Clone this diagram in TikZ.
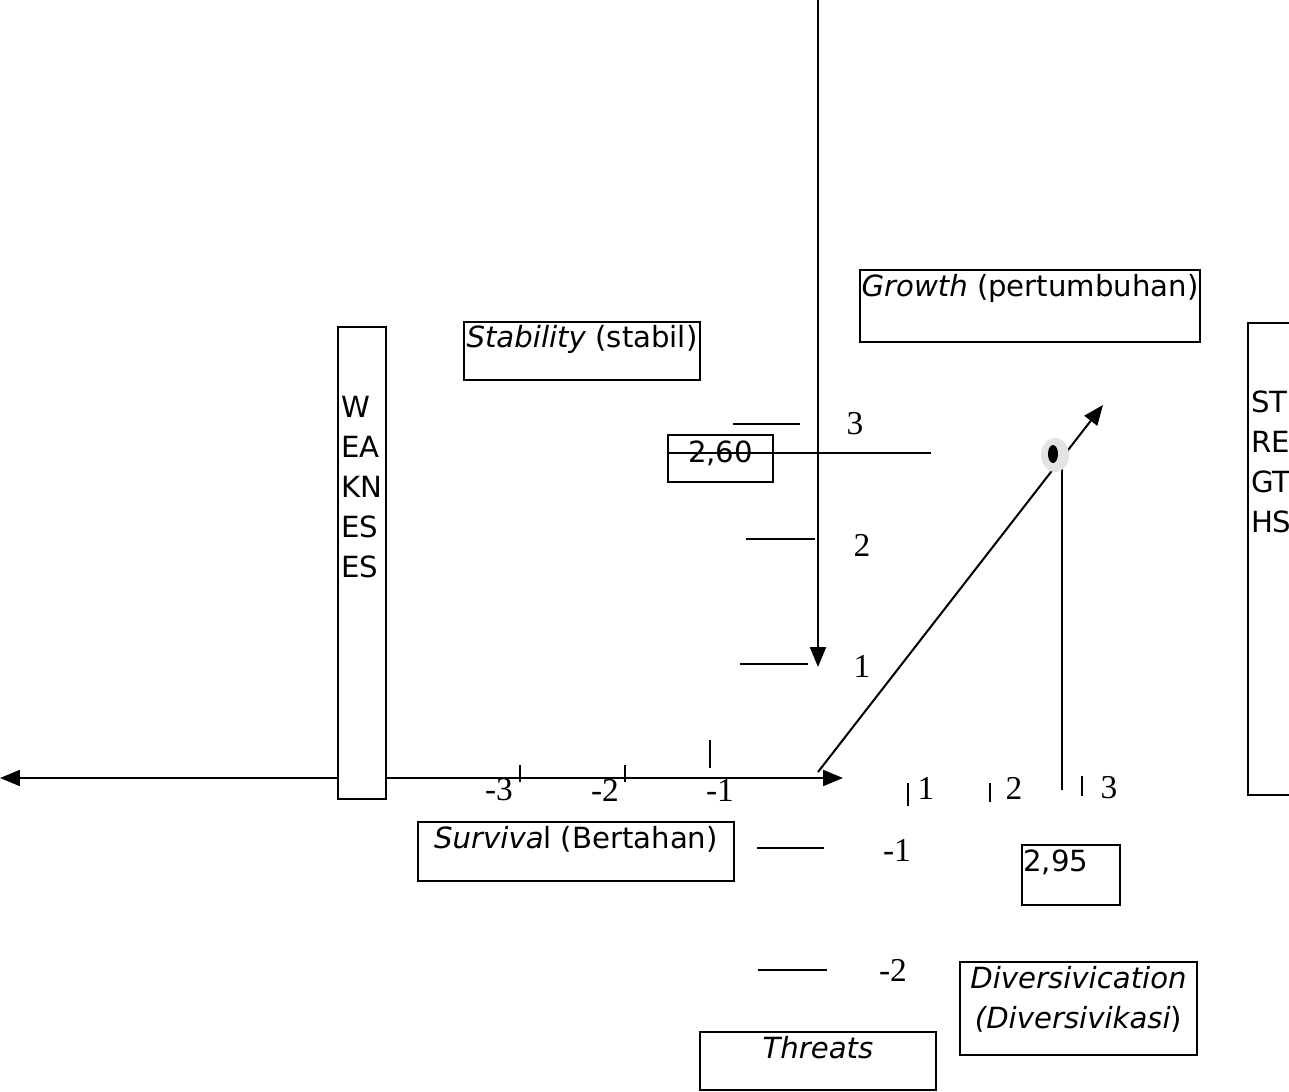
\documentclass[tikz,border=0pt]{standalone}
\usepackage{fontspec}
\setmainfont{Liberation Serif}
\newfontfamily\dejavu{DejaVu Sans}
\usetikzlibrary{arrows.meta,shapes.geometric}

\begin{document}
\begin{tikzpicture}[x=0.02cm, y=-0.02cm, line width=1.15pt,
    box/.style={draw, fill=white, inner sep=0pt, line width=0.9pt},
    lab/.style={inner sep=0pt, font=\dejavu\fontsize{16.6}{22.8}\selectfont},
    num/.style={inner sep=0pt, font=\fontsize{19}{22}\selectfont},
    tip/.style={-{Triangle[length=0.4cm, width=0.32cm]}}]

    \useasboundingbox (0,0) rectangle (1289,1092);

    % axes
    \coordinate (vtop) at (818,0);
    \coordinate (vend) at (818,667);
    \coordinate (hleft) at (0,778);
    \coordinate (hright) at (843,778);
    \draw[tip] (vtop) -- (vend);
    \draw[{Triangle[length=0.4cm, width=0.32cm]}-{Triangle[length=0.4cm, width=0.32cm]}] (hleft) -- (hright);

    % scale marks
    \foreach \y/\a/\b in {424/733/800, 539/746/815, 664/740/808, 848/757/824, 970/758/827}
        \draw (\a,\y) -- (\b,\y);
    \foreach \x/\a/\b in {520/765/782, 625/765/782, 710/740/768, 908/783/806, 990/783/802, 1082/776/796}
        \draw (\x,\a) -- (\x,\b);
    \foreach \n/\x/\y [count=\i] in {3/855/424, 2/862/545, 1/862/666, -1/897/850, -2/893/970}
        \node[num] (ny\i) at (\x,\y) {\n};
    \foreach \n/\x/\y [count=\i] in {-3/499/790, -2/605/790, -1/720/790, 1/926/788, 2/1014/788, 3/1109/788}
        \node[num] (nx\i) at (\x,\y) {\n};

    % weaknesses / strengths
    \node[box, minimum width=0.96cm, minimum height=9.44cm] (weak) at (362,563) {};
    \node[lab, anchor=north west, align=left] (weakT) at (340,395) {W\\EA\\KN\\ES\\ES};
    \node[box, minimum width=1.04cm, minimum height=9.44cm] (strong) at (1274,559) {};
    \node[lab, anchor=north west, align=left] (strongT) at (1250,390) {ST\\RE\\GT\\HS};

    % quadrants
    \node[box, minimum width=4.72cm, minimum height=1.16cm] (stab) at (582,351) {};
    \node[lab, anchor=north] (stabT) at (stab.north) [yshift=-0.06cm] {\textit{Stability} (stabil)};
    \node[box, minimum width=6.8cm, minimum height=1.44cm] (grow) at (1030,306) {};
    \node[lab, anchor=north] (growT) at (grow.north) [yshift=-0.08cm] {\textit{Growth} (pertumbuhan)};
    \node[box, minimum width=6.32cm, minimum height=1.18cm] (surv) at (576,851.5) {};
    \node[lab, anchor=north] (survT) at (surv.north) [yshift=-0.08cm] {\textit{Surviva}l (Bertahan)};
    \node[box, minimum width=4.74cm, minimum height=1.86cm] (div) at (1078.5,1008.5) {};
    \node[lab, anchor=north, align=center] (divT) at (div.north) [yshift=-0.08cm] {\textit{Diversivication}\\\textit{(Diversivikasi})};
    \node[box, minimum width=4.72cm, minimum height=1.16cm] (thr) at (818,1061) {};
    \node[lab, anchor=north] (thrT) at (thr.north) [yshift=-0.08cm] {\textit{Threats}};

    % scores
    \node[box, minimum width=2.1cm, minimum height=0.94cm] (ifas) at (720.5,458.5) {};
    \node[lab, anchor=north] (ifasT) at (ifas.north) [yshift=-0.12cm] {2,60};
    \node[box, minimum width=1.96cm, minimum height=1.2cm] (efas) at (1071,875) {};
    \node[lab, anchor=north west] (efasT) at (efas.north west) [yshift=-0.1cm, xshift=0.02cm] {2,95};

    \coordinate (m0) at (667,453);
    \coordinate (m1) at (931,453);
    \draw (m0) -- (m1);
    \coordinate (q0) at (1062,468);
    \coordinate (q1) at (1062,790);
    \draw (q0) -- (q1);

    % position
    \coordinate (dstart) at (818,772);
    \coordinate (dend) at (1103,405);
    \draw[tip] (dstart) -- (dend);
    \node[ellipse, fill=gray!22, inner sep=0pt, minimum width=0.56cm, minimum height=0.68cm] (pt) at (1055,455) {};
    \node[ellipse, fill=black, inner sep=0pt, minimum width=0.2cm, minimum height=0.36cm] (ptc) at (1053,454) {};

\end{tikzpicture}
\end{document}
